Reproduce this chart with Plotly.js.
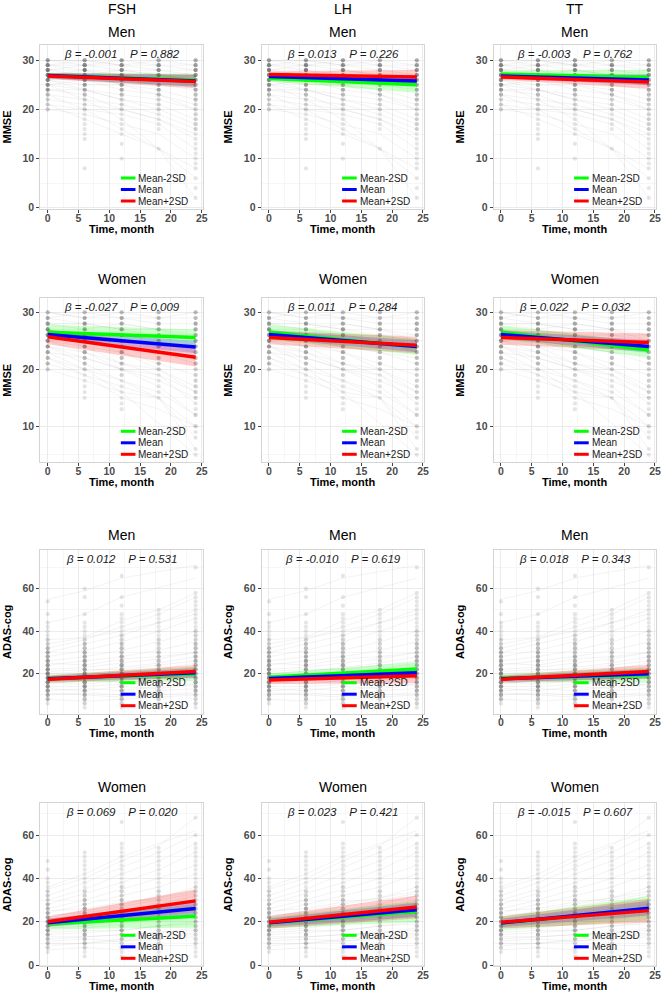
<!DOCTYPE html>
<html><head><meta charset="utf-8">
<script src="https://cdn.plot.ly/plotly-3.0.1.min.js"></script>
<style>html,body{margin:0;padding:0;background:#fff}#chart{width:662px;height:992px}</style>
</head><body><div id="chart"></div>
<script>
// ---------- DATA ----------
const hormones = ['FSH', 'LH', 'TT'];
const rowSex = ['Men', 'Women', 'Men', 'Women'];
const rowOutcome = ['MMSE', 'MMSE', 'ADAS-cog', 'ADAS-cog'];
const xTitle = 'Time, month';
const times = [0, 6, 12, 18, 24];
const fitTimes = [0, 24];
const xTicks = [0, 5, 10, 15, 20, 25];
const yTicksMMSE = [0, 10, 20, 30];
const yTicksADAS = [0, 20, 40, 60];
const legendLabels = ['Mean-2SD', 'Mean', 'Mean+2SD'];
// panels row-major: MMSE men (FSH,LH,TT), MMSE women, ADAS men, ADAS women
const betaText = ['-0.001', '0.013', '-0.003', '-0.027', '0.011', '0.022', '0.012', '-0.010', '0.018', '0.069', '0.023', '-0.015'];
const pText = ['0.882', '0.226', '0.762', '0.009', '0.284', '0.032', '0.531', '0.619', '0.343', '0.020', '0.421', '0.607'];

// fitted lines [t0, t24] and CI bands
const greenFit = [[26.9,26.0],[26.3,25.0],[27.2,26.5],[26.5,25.6],[26.5,23.9],[26.5,23.4],[17.7,19.9],[18.3,22.2],[17.9,19.3],[19.0,22.5],[19.4,24.7],[19.3,26.1]];
const greenLo  = [[26.3,24.6],[25.7,23.4],[26.5,25.0],[25.2,24.2],[25.2,22.5],[25.3,22.1],[15.9,16.6],[16.4,19.0],[16.0,15.8],[16.6,17.2],[16.8,19.8],[16.3,20.5]];
const greenHi  = [[27.5,27.3],[26.9,26.5],[27.9,28.0],[27.8,27.0],[27.8,25.3],[27.7,24.7],[19.5,23.2],[20.2,25.5],[19.8,22.8],[21.4,27.8],[22.0,29.6],[22.3,31.7]];
const blueFit  = [[26.9,25.8],[26.7,25.8],[26.8,26.0],[26.1,23.9],[26.1,24.0],[26.1,24.0],[17.6,20.4],[17.8,20.4],[17.6,20.0],[19.5,26.1],[19.5,25.5],[19.4,26.2]];
const blueLo   = [[26.3,24.6],[26.2,24.8],[26.3,24.9],[25.4,22.8],[25.4,23.0],[25.4,22.9],[16.3,18.2],[16.5,18.2],[16.3,17.8],[17.6,22.7],[17.5,22.2],[17.4,22.8]];
const blueHi   = [[27.4,27.0],[27.2,26.9],[27.3,27.1],[26.8,25.0],[26.8,25.1],[26.8,25.1],[18.9,22.6],[19.1,22.6],[18.9,22.2],[21.4,29.5],[21.5,28.8],[21.4,29.6]];
const redFit   = [[26.8,25.7],[27.1,26.6],[26.6,25.6],[25.7,22.1],[25.6,24.2],[25.6,24.7],[17.4,21.0],[17.0,19.0],[17.4,21.0],[20.0,29.6],[19.7,26.8],[19.7,25.1]];
const redLo    = [[26.2,24.3],[26.4,25.2],[26.0,24.2],[24.4,20.5],[24.4,22.8],[24.3,23.2],[15.7,18.0],[15.2,15.5],[15.7,17.8],[17.6,24.2],[16.8,21.5],[17.0,19.6]];
const redHi    = [[27.4,27.1],[27.7,28.0],[27.2,27.0],[27.0,23.7],[26.8,25.7],[26.9,26.3],[19.1,24.1],[18.8,22.5],[19.1,24.2],[22.4,35.0],[22.6,32.1],[22.4,30.6]];

// observed score levels and how many dots sit at each level, per visit (0,6,12,18,24)
const mmseLevels = [30,29,28,27,26,25,24,23,22,21,20,19,18,17,16,15,14,13,12,11,10,9,8,7,6,5,4,3,2];
const menMmseCounts = [
  [5,7,8,8,7,6,5,3,2,2, 2,0,0,0,0,0,0,0,0,0, 0,0,0,0,0,0,0,0,0],
  [5,7,8,7,6,5,4,3,2,2, 2,1,1,1,1,1,1,0,0,0, 0,0,1,0,0,0,0,0,0],
  [5,6,7,7,6,5,4,3,2,2, 2,1,1,1,1,1,0,1,0,0, 1,0,0,0,0,0,0,0,0],
  [4,6,6,6,5,4,4,3,2,2, 2,1,1,1,1,0,0,0,1,0, 0,0,0,0,0,0,0,0,0],
  [4,5,6,6,5,4,4,3,3,2, 2,2,2,2,2,1,1,1,1,1, 1,1,1,0,1,0,1,0,1]
];
const womenMmseCounts = [
  [3,4,5,6,6,6,5,4,3,3, 2,0,0,0,0,0,0,0,0,0, 0,0,0,0,0,0,0,0,0],
  [3,4,5,5,5,5,5,4,3,3, 2,1,1,1,1,1,0,0,0,0, 0,0,0,0,0,0,0,0,0],
  [3,4,4,5,5,5,4,4,3,3, 2,2,1,1,1,1,1,1,0,0, 0,0,0,0,0,0,0,0,0],
  [3,3,4,4,4,4,4,3,3,3, 2,1,1,1,1,1,0,0,0,0, 0,0,0,0,0,0,0,0,0],
  [3,3,4,4,4,4,4,3,3,3, 2,2,2,2,2,2,1,1,2,0, 2,1,1,0,1,1,0,0,0]
];
const adasLevels = [4,6,8,10,12,14,16,18,20,22,24,26,28,30,32,34,36,38,40,42,44,46,48,50,52,54,56,58,60,62,64,66,68,70];
const menAdasCounts = [
  [0,1,3,4,5,6,7,7,7,6, 5,5,4,4,3,2,2,1,1,1, 1,0,1,0,0,1,0,0,0,0, 0,0,0,0],
  [1,2,3,4,5,6,6,6,6,5, 5,5,4,4,3,3,2,1,1,1, 1,0,1,0,0,0,1,0,1,0, 0,0,0,0],
  [1,2,3,4,4,5,5,6,6,5, 5,4,4,3,3,3,2,2,1,1, 1,1,1,0,1,0,1,0,0,0, 0,1,0,0],
  [1,1,2,3,3,4,4,4,4,4, 4,3,3,3,2,2,2,1,1,1, 1,1,1,1,0,0,0,0,0,0, 0,0,0,0],
  [1,2,2,3,4,4,5,5,5,5, 4,4,4,3,3,3,2,2,2,1, 1,1,1,1,1,1,1,1,0,0, 0,0,0,1]
];
const womenAdasCounts = [
  [0,1,2,3,3,4,5,5,5,4, 4,3,3,2,2,2,1,1,1,0, 1,0,1,0,0,0,0,0,0,0, 0,0,0,0],
  [1,1,2,3,3,4,4,5,5,4, 4,4,3,3,2,2,1,1,1,1, 1,1,1,1,1,0,0,0,0,0, 0,0,0,0],
  [1,1,2,2,3,3,4,4,4,4, 4,3,3,3,2,2,2,1,1,1, 1,1,1,1,1,1,1,0,0,0, 0,1,0,0],
  [1,1,1,2,2,3,3,3,3,3, 3,3,2,2,2,2,1,1,1,1, 1,1,1,1,1,1,0,0,0,0, 0,0,0,0],
  [1,1,1,2,2,2,3,3,3,3, 3,3,3,2,2,2,2,1,1,1, 1,1,1,1,1,1,1,0,1,0, 0,0,1,0]
];

// individual trajectories (visits 0,6,12,18,24; null = missed)
const menMmseSubjects = [
  [30,29,30,29,28],[29,29,28,28,27],[28,28,27,27,26],[27,28,26,25,24],[26,25,25,24,22],
  [25,26,24,23,21],[24,24,22,21,18],[23,22,21,19,16],[22,21,20,18,14],[21,20,19,17,12],
  [20,19,17,15,10],[29,30,29,29,29],[28,29,29,28,28],[27,26,27,26,25],[26,27,26,26,25],
  [25,24,23,22,20],[24,23,20,18,15],[30,30,29,30,29],[28,27,28,27,27],[27,27,25,23,20],
  [26,24,22,20,17],[29,28,28,27,26],[23,20,16,12,8],[25,22,18,null,6],[21,18,15,12,2]
];
const womenMmseSubjects = [
  [30,29,29,28,28],[29,28,28,27,26],[28,28,27,26,25],[27,26,26,25,23],[26,25,24,23,21],
  [25,24,23,21,19],[24,23,21,20,17],[23,22,20,18,15],[22,20,18,16,12],[21,19,17,15,10],
  [20,18,16,15,8],[29,30,29,29,29],[28,27,28,27,27],[27,27,26,26,26],[26,26,25,24,24],
  [25,25,24,23,22],[24,22,20,19,16],[30,29,30,29,30],[27,25,23,20,16],[26,24,21,19,14],
  [25,23,20,17,12],[28,28,27,27,25],[24,21,18,15,6],[23,20,16,null,5],[22,19,15,13,10]
];
const menAdasSubjects = [
  [8,7,8,9,10],[10,11,10,12,13],[12,13,12,14,15],[14,14,15,16,18],[16,15,17,18,20],
  [18,19,20,21,23],[20,21,23,25,28],[22,23,25,27,30],[24,26,28,31,35],[26,28,31,35,40],
  [28,31,35,40,46],[30,34,38,44,50],[32,36,42,48,56],[34,37,45,50,58],[36,37,40,44,48],
  [15,17,16,17,19],[18,17,19,20,21],[13,12,14,13,15],[21,22,22,24,26],[25,24,27,28,30],
  [17,19,21,22,25],[11,10,9,10,11],[44,48,56,null,65],[55,59,65,null,71]
];
const womenAdasSubjects = [
  [7,8,7,9,9],[10,10,11,12,13],[12,13,14,15,17],[14,15,16,18,20],[16,17,19,21,24],
  [18,20,22,24,27],[20,22,25,28,32],[22,25,28,31,36],[24,28,32,36,42],[26,30,35,40,46],
  [28,33,38,44,52],[30,35,42,48,56],[32,38,45,52,60],[35,40,48,55,68],[15,16,16,18,19],
  [19,19,21,22,24],[13,13,14,15,16],[21,23,24,26,28],[25,26,29,31,34],[17,18,20,21,23],
  [11,12,11,13,14],[36,42,50,null,62],[9,10,12,13,15],[23,24,27,30,33]
];

// ---------- CHART ----------
const W = 662, H = 992;
const FONT = 'Liberation Sans, Arial, Helvetica, sans-serif';
const lineColors = ['#00ff00', '#0000ff', '#ff0000'];
const bandColors = ['rgba(0,255,0,0.2)', 'rgba(0,0,255,0.2)', 'rgba(255,0,0,0.2)'];
const fits = [greenFit, blueFit, redFit];
const los = [greenLo, blueLo, redLo];
const his = [greenHi, blueHi, redHi];
const rowSubjects = [menMmseSubjects, womenMmseSubjects, menAdasSubjects, womenAdasSubjects];
const rowCounts = [menMmseCounts, womenMmseCounts, menAdasCounts, womenAdasCounts];
const rowLevels = [mmseLevels, mmseLevels, adasLevels, adasLevels];

const colPx = [[40.3, 203], [261.6, 424.2], [493.6, 656.2]];
const rowPx = [[45, 209], [298.3, 462.3], [550, 713.7], [803, 966.3]];
const yRanges = [[-0.26, 33.11], [3.68, 32.46], [1.18, 78.2], [-0.6, 74.77]];
const titleY = [32, 279.3, 535, 786.7];
const legendOffsets = [31, 19.5, 8];

const traces = [];
const annotations = [];
const shapes = [];
const layout = {
  width: W, height: H,
  margin: {l: 0, r: 0, t: 0, b: 0},
  paper_bgcolor: '#ffffff', plot_bgcolor: '#ffffff',
  showlegend: false, hovermode: false,
  font: {family: FONT, color: '#000'}
};

for (let r = 0; r < 4; r++) {
  for (let c = 0; c < 3; c++) {
    const k = r * 3 + c;
    const s = k === 0 ? '' : String(k + 1);
    const xa = 'x' + s, ya = 'y' + s;

    // spaghetti lines
    const sx = [], sy = [];
    rowSubjects[r].forEach(subj => {
      subj.forEach((v, i) => { if (v !== null) { sx.push(times[i]); sy.push(v); } });
      sx.push(null); sy.push(null);
    });
    traces.push({type: 'scatter', mode: 'lines', x: sx, y: sy, xaxis: xa, yaxis: ya,
      line: {color: 'rgba(150,150,150,0.2)', width: 0.6}, hoverinfo: 'skip', showlegend: false});

    // observation dots
    const dx = [], dy = [];
    rowCounts[r].forEach((cnts, ti) => cnts.forEach((n, li) => {
      for (let j = 0; j < n; j++) { dx.push(times[ti]); dy.push(rowLevels[r][li]); }
    }));
    traces.push({type: 'scatter', mode: 'markers', x: dx, y: dy, xaxis: xa, yaxis: ya,
      marker: {size: 4.2, color: 'rgba(80,80,80,0.15)', line: {width: 0}}, hoverinfo: 'skip', showlegend: false});

    // bands
    for (let i = 0; i < 3; i++) {
      traces.push({type: 'scatter', mode: 'lines', xaxis: xa, yaxis: ya,
        x: [fitTimes[0], fitTimes[1], fitTimes[1], fitTimes[0]],
        y: [los[i][k][0], los[i][k][1], his[i][k][1], his[i][k][0]],
        fill: 'toself', fillcolor: bandColors[i], line: {width: 0}, hoverinfo: 'skip', showlegend: false});
    }
    // fitted lines
    for (let i = 0; i < 3; i++) {
      traces.push({type: 'scatter', mode: 'lines', xaxis: xa, yaxis: ya,
        x: fitTimes, y: fits[i][k], name: legendLabels[i],
        line: {color: lineColors[i], width: 3.5}, hoverinfo: 'skip', showlegend: false});
    }

    layout['xaxis' + s] = {
      domain: [colPx[c][0] / W, colPx[c][1] / W], anchor: ya, range: [-1.2, 25.2],
      tickmode: 'array', tickvals: xTicks, ticks: 'outside', ticklen: 3, tickwidth: 1, tickcolor: '#444',
      ticklabelstandoff: -4,
      tickfont: {family: FONT, size: 10.5, color: '#4d4d4d', weight: 'bold'},
      showgrid: true, gridcolor: '#ebebeb', gridwidth: 1,
      minor: {tickmode: 'linear', tick0: 0, dtick: 2.5, showgrid: true, gridcolor: '#f6f6f6', gridwidth: 1, ticks: ''},
      showline: true, mirror: true, linecolor: '#d4d4d4', linewidth: 1, zeroline: false,
      fixedrange: true
    };
    layout['yaxis' + s] = {
      domain: [1 - rowPx[r][1] / H, 1 - rowPx[r][0] / H], anchor: xa, range: yRanges[r],
      tickmode: 'array', tickvals: r < 2 ? yTicksMMSE : yTicksADAS,
      ticks: 'outside', ticklen: 3, tickwidth: 1, tickcolor: '#444',
      tickfont: {family: FONT, size: 10.5, color: '#4d4d4d', weight: 'bold'},
      showgrid: true, gridcolor: '#ebebeb', gridwidth: 1,
      minor: {tickmode: 'linear', tick0: 0, dtick: r < 2 ? 5 : 10, showgrid: true, gridcolor: '#f6f6f6', gridwidth: 1, ticks: ''},
      showline: true, mirror: true, linecolor: '#d4d4d4', linewidth: 1, zeroline: false,
      title: {text: rowOutcome[r], font: {family: FONT, size: 11, weight: 'bold', color: '#000'}, standoff: 8},
      fixedrange: true
    };

    // x-axis title (placed tight under the tick labels, as in the reference)
    annotations.push({xref: xa + ' domain', yref: 'paper', x: 0.5, y: 1 - (rowPx[r][1] + 19.5) / H,
      text: xTitle, showarrow: false, xanchor: 'center', yanchor: 'middle', borderpad: 0,
      font: {family: FONT, size: 11, weight: 'bold', color: '#000'}});
    // panel title
    annotations.push({xref: xa + ' domain', yref: 'paper', x: 0.5, y: 1 - titleY[r] / H,
      text: rowSex[r], showarrow: false, xanchor: 'center', yanchor: 'middle',
      font: {family: FONT, size: 14, color: '#000'}});
    // beta / P
    const sp = '\u00a0\u00a0\u00a0\u00a0';
    annotations.push({xref: xa + ' domain', yref: ya + ' domain', x: 0.5, y: 0.945,
      text: '<i>\u03b2 = ' + betaText[k] + sp + 'P = ' + pText[k] + '</i>', showarrow: false,
      xanchor: 'center', yanchor: 'middle', font: {family: FONT, size: 11.5, color: '#1a1a1a'}});
    // legend
    const ph = rowPx[r][1] - rowPx[r][0];
    for (let i = 0; i < 3; i++) {
      const yy = legendOffsets[i] / ph;
      shapes.push({type: 'line', xref: xa + ' domain', yref: ya + ' domain',
        x0: 0.495, x1: 0.585, y0: yy, y1: yy, line: {color: lineColors[i], width: 3}});
      annotations.push({xref: xa + ' domain', yref: ya + ' domain', x: 0.597, y: yy,
        text: legendLabels[i], showarrow: false, xanchor: 'left', yanchor: 'middle', borderpad: 0,
        font: {family: FONT, size: 10, color: '#1a1a1a'}});
    }
  }
}
// column headers
for (let c = 0; c < 3; c++) {
  annotations.push({xref: 'paper', yref: 'paper', x: (colPx[c][0] + colPx[c][1]) / 2 / W, y: 1 - 9 / H,
    text: hormones[c], showarrow: false, xanchor: 'center', yanchor: 'middle',
    font: {family: FONT, size: 14, color: '#000'}});
}
layout.annotations = annotations;
layout.shapes = shapes;

Plotly.newPlot('chart', traces, layout, {staticPlot: true, displayModeBar: false});
</script>
</body></html>
